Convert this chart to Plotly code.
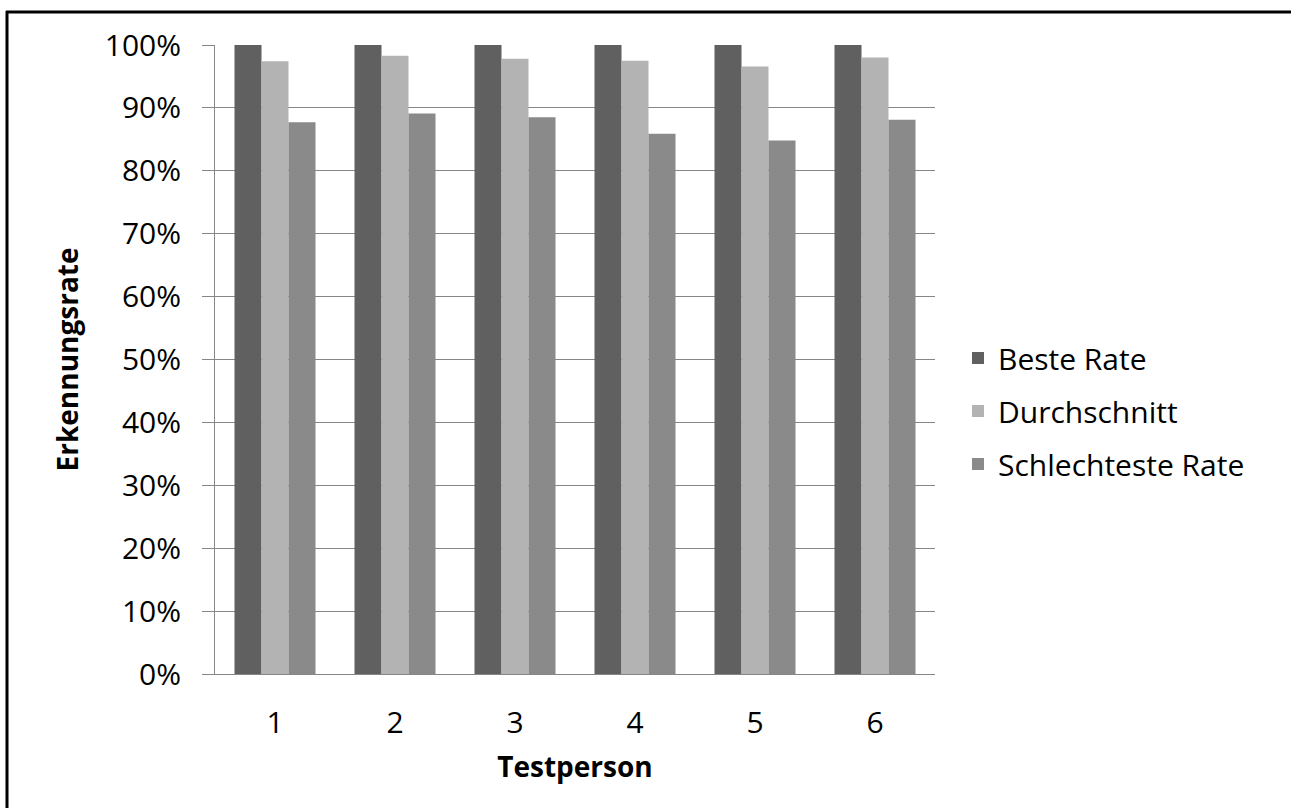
import plotly.graph_objects as go

categories = ["1", "2", "3", "4", "5", "6"]
beste_rate = [1.0, 1.0, 1.0, 1.0, 1.0, 1.0]
durchschnitt = [0.974, 0.983, 0.978, 0.975, 0.966, 0.980]
schlechteste_rate = [0.877, 0.891, 0.885, 0.859, 0.848, 0.881]
tick_vals = [i / 10 for i in range(11)]
tick_text = [f"{i*10}%" for i in range(11)]

W, H = 1291, 808
L, R, T, B = 215, 935, 45, 674

FONT = "Open Sans"

fig = go.Figure()
series = [
    ("Beste Rate", beste_rate, "#606060"),
    ("Durchschnitt", durchschnitt, "#b3b3b3"),
    ("Schlechteste Rate", schlechteste_rate, "#8a8a8a"),
]
for i, (name, vals, col) in enumerate(series):
    fig.add_trace(go.Bar(
        x=categories, y=vals, name=name, marker_color=col,
        marker_line_width=0, legendgroup=f"g{i}",
    ))

fig.update_layout(
    width=W, height=H,
    margin=dict(l=L, r=W - R, t=T, b=H - B, autoexpand=False),
    paper_bgcolor="white", plot_bgcolor="white",
    barmode="group", bargap=0.325, bargroupgap=0,
    font=dict(family=FONT, size=30, color="black"),
    showlegend=True,
    legend=dict(
        x=(958 - L) / (R - L), y=(B - 332) / (B - T), xanchor="left", yanchor="top",
        font=dict(size=30, family=FONT), tracegroupgap=11,
        bgcolor="rgba(0,0,0,0)",
    ),
    xaxis=dict(
        showgrid=False, showline=True, linecolor="#868686", linewidth=1,
        ticks="", ticklabelstandoff=22,
        tickfont=dict(size=30, family=FONT),
        title=dict(text="<b>Testperson</b>", font=dict(size=28, family=FONT), standoff=16),
    ),
    yaxis=dict(
        range=[0, 1], tickvals=tick_vals, ticktext=tick_text,
        showgrid=True, gridcolor="#868686", gridwidth=1,
        showline=True, linecolor="#868686", linewidth=1,
        ticks="outside", ticklen=12, tickcolor="#868686",
        ticklabelstandoff=15, zeroline=False,
        tickfont=dict(size=30, family=FONT),
        title=dict(text="<b>Erkennungsrate</b>", font=dict(size=28, family=FONT), standoff=17),
    ),
)

# outer frame (top and left edges visible)
fig.add_shape(type="line", xref="paper", yref="paper",
              x0=(6 - L) / (R - L), x1=(W + 5 - L) / (R - L),
              y0=(B - 12) / (B - T), y1=(B - 12) / (B - T),
              line=dict(color="black", width=3))
fig.add_shape(type="line", xref="paper", yref="paper",
              x0=(7 - L) / (R - L), x1=(7 - L) / (R - L),
              y0=(B - 11) / (B - T), y1=(B - H - 5) / (B - T),
              line=dict(color="black", width=3))

fig.write_html("out.html", config={"displayModeBar": False},
               post_script="document.body.style.margin='0px';document.body.style.overflow='hidden';")
